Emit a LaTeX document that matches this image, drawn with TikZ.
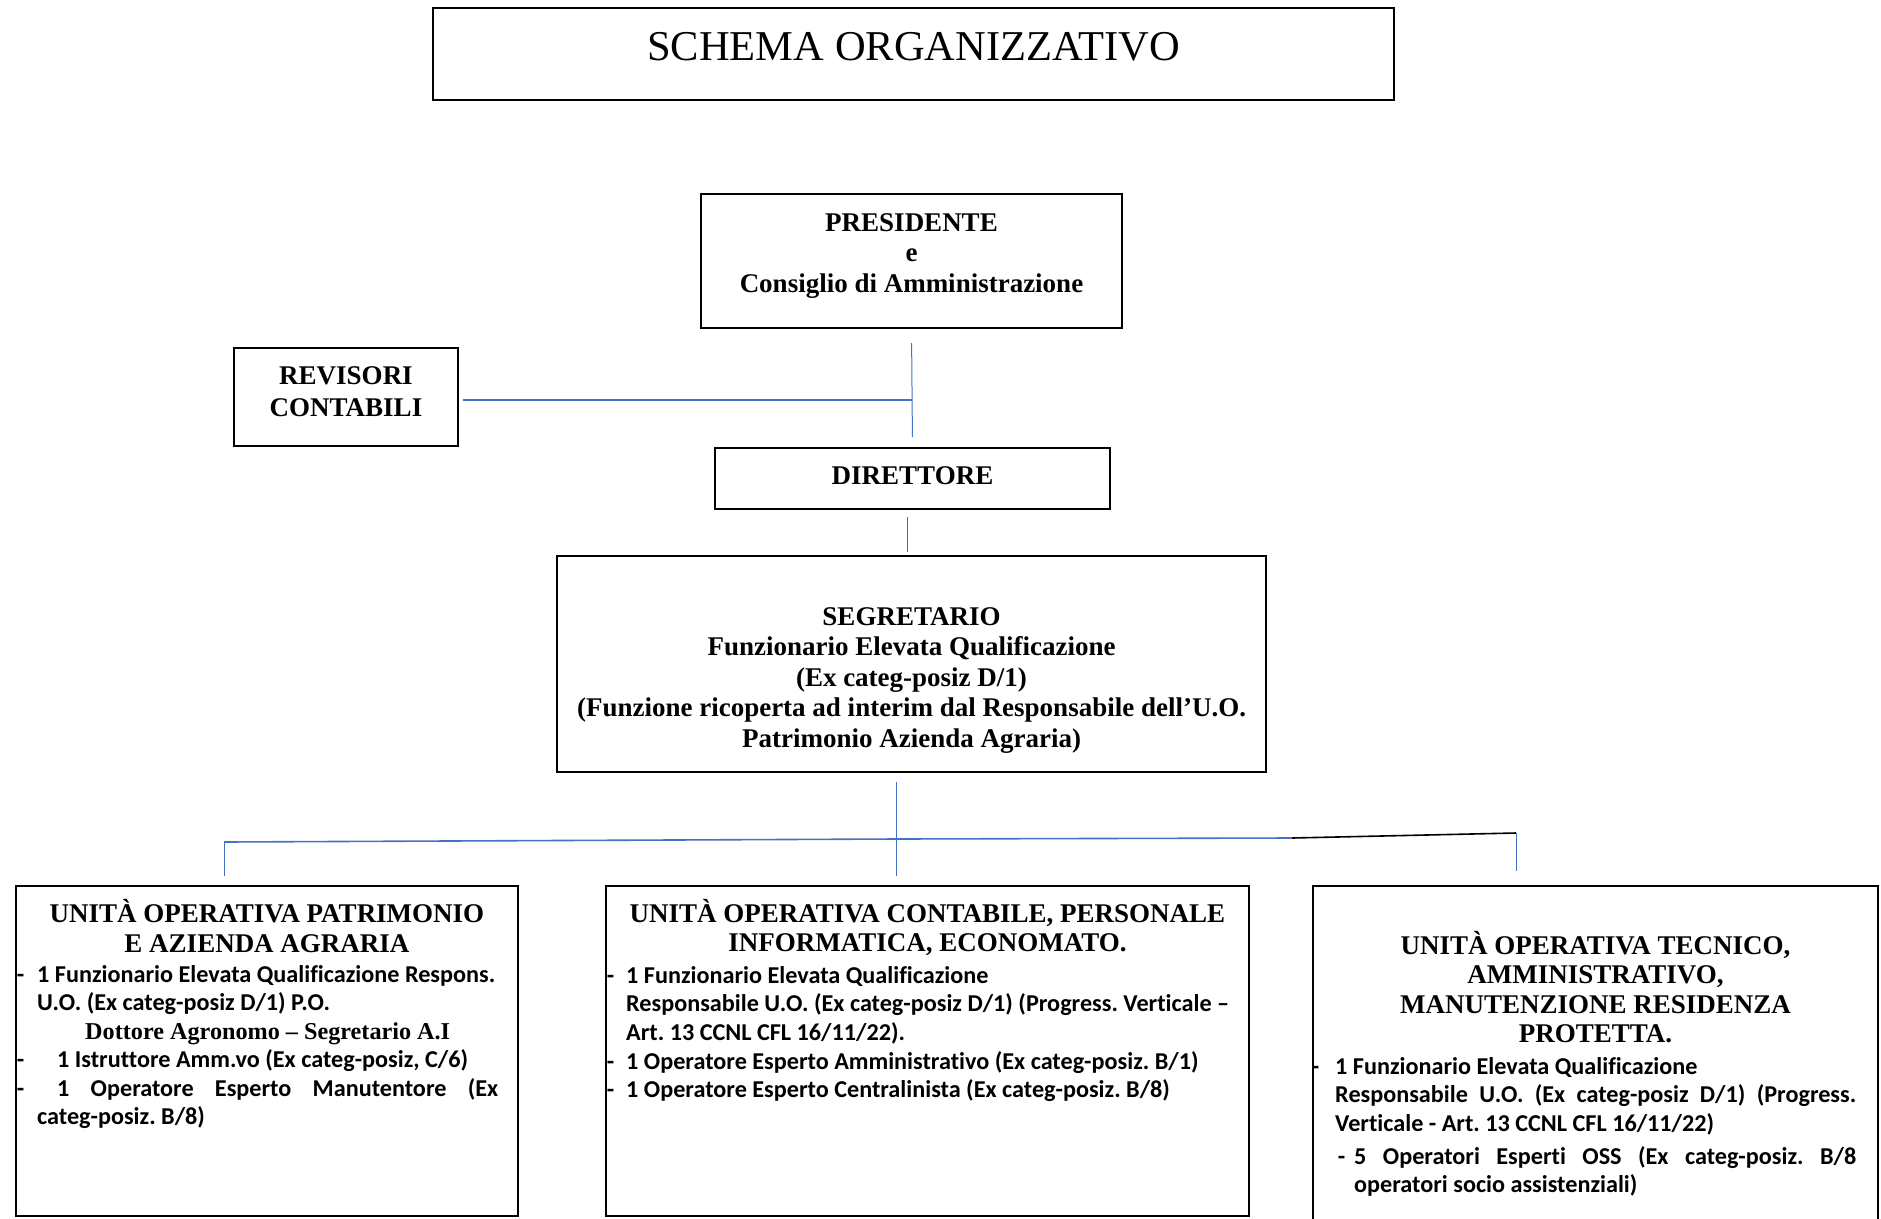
\documentclass[tikz,border=0pt]{standalone}
\usepackage{fontspec}
\setmainfont{Liberation Serif}
\newfontfamily\calibrifont[Ligatures=NoCommon]{Carlito}
\frenchspacing

\definecolor{linkblue}{RGB}{68,114,196}

\newcommand{\bodyfont}{\calibrifont\bfseries\fontsize{24.2}{28.5}\selectfont}
\newcommand{\headfont}{\bfseries\fontsize{27}{30.5}\selectfont}

\tikzset{
  org box/.style={draw=black, line width=2pt, inner sep=0pt},
  head text/.style={inner sep=0pt, anchor=base, font=\headfont},
  body text/.style={inner sep=0pt, anchor=base west, font=\bodyfont},
  link/.style={draw=linkblue, line width=1pt}
}

\begin{document}
\begin{tikzpicture}[x=1pt, y=-1pt]
\useasboundingbox (0,0) rectangle (1881,1218);
\clip (0,0) rectangle (1881,1218);

\node[org box, minimum width=961pt, minimum height=92pt] (title) at (913.5,54) {};
\node[org box, minimum width=421pt, minimum height=134pt] (pres) at (911.5,261) {};
\node[org box, minimum width=224pt, minimum height=98pt] (rev) at (346,397) {};
\node[org box, minimum width=395pt, minimum height=61pt] (dir) at (912.5,478.5) {};
\node[org box, minimum width=709pt, minimum height=216pt] (seg) at (911.5,664) {};
\node[org box, minimum width=502pt, minimum height=330pt] (uo1) at (267,1051) {};
\node[org box, minimum width=643pt, minimum height=330pt] (uo2) at (927.5,1051) {};
\node[org box, minimum width=565pt, minimum height=344pt] (uo3) at (1595.5,1058) {};

\node[inner sep=0pt, anchor=base, font=\fontsize{42.5}{48}\selectfont] (titletxt) at (913.5,60) {SCHEMA ORGANIZZATIVO};
\node[head text] (prestxt) at (911.5,231) {\parbox[t]{400pt}{\centering PRESIDENTE\\e\\Consiglio di Amministrazione}};
\node[head text] (revtxt) at (346,384) {\parbox[t]{210pt}{\centering\baselineskip=32pt REVISORI\\CONTABILI}};
\node[head text] (dirtxt) at (912.5,484) {DIRETTORE};
\node[head text] (segtxt) at (911.5,625) {\parbox[t]{700pt}{\centering SEGRETARIO\\Funzionario Elevata Qualificazione\\(Ex categ-posiz D/1)\\(Funzione ricoperta ad interim dal Responsabile dell’U.O.\\Patrimonio Azienda Agraria)}};

\node[head text] (uo1head) at (267,922) {\parbox[t]{490pt}{\centering\baselineskip=30pt UNITÀ OPERATIVA PATRIMONIO\\E AZIENDA AGRARIA}};
\node[head text] (uo2head) at (927.5,922) {\parbox[t]{630pt}{\centering\baselineskip=29.5pt UNITÀ OPERATIVA CONTABILE, PERSONALE\\INFORMATICA, ECONOMATO.}};
\node[head text] (uo3head) at (1595.5,954) {\parbox[t]{550pt}{\centering\baselineskip=29.5pt UNITÀ OPERATIVA TECNICO,\\AMMINISTRATIVO,\\MANUTENZIONE RESIDENZA\\PROTETTA.}};

\node[body text] (uo1body) at (37,982) {\parbox[t]{520pt}{\noindent\llap{-\hspace{13pt}}1 Funzionario Elevata Qualificazione Respons.\\
U.O. (Ex categ-posiz D/1) P.O.\\
\makebox[461pt]{\rmfamily Dottore Agronomo \textendash{} Segretario A.I}\\
\llap{-\hspace{13pt}}\hspace*{20pt}1 Istruttore Amm.vo (Ex categ-posiz, C/6)\\
\llap{-\hspace{13pt}}\hspace*{20pt}\makebox[441pt][s]{1 Operatore Esperto Manutentore (Ex}\\
categ-posiz. B/8)}};

\node[body text] (uo2body) at (626,983) {\parbox[t]{660pt}{\baselineskip=28.7pt\noindent\llap{-\hspace{12pt}}1 Funzionario Elevata Qualificazione\\
Responsabile U.O. (Ex categ-posiz D/1) (Progress. Verticale \textendash\\
Art. 13 CCNL CFL 16/11/22).\\
\llap{-\hspace{12pt}}1 Operatore Esperto Amministrativo (Ex categ-posiz. B/1)\\
\llap{-\hspace{12pt}}1 Operatore Esperto Centralinista (Ex categ-posiz. B/8)}};

\node[body text] (uo3body) at (1335,1074) {\parbox[t]{560pt}{\noindent\llap{-\hspace{16pt}}1 Funzionario Elevata Qualificazione\\
\makebox[521pt][s]{Responsabile U.O. (Ex categ-posiz D/1) (Progress.}\\
Verticale - Art. 13 CCNL CFL 16/11/22)\\[4.5pt]
\hspace*{19pt}\llap{-\hspace{9pt}}\makebox[502pt][s]{5 Operatori Esperti OSS (Ex categ-posiz. B/8}\\
\hspace*{19pt}operatori socio assistenziali)}};

\coordinate (jrev) at (912,400);
\coordinate (bus) at (896,839);
\coordinate (busL) at (224,842);
\coordinate (busK) at (1292,838);
\coordinate (busR) at (1516,833);

\draw[link, shorten <=14pt, shorten >=10pt] (pres.south) -- (dir.north);
\draw[link, line width=2pt, shorten <=4pt] (rev.east |- jrev) -- (jrev);
\draw[link, shorten <=7pt, shorten >=3pt] ([xshift=-5pt]dir.south) -- ([xshift=-4pt]seg.north);
\draw[link, shorten <=9pt, shorten >=9pt] (seg.south -| bus) -- (bus |- uo2.north);
\draw[link, line width=1.6pt] (busL) -- (bus) -- (busK);
\draw[line width=1.6pt] (busK) -- (busR);
\draw[link, shorten >=9pt] (busL) -- (busL |- uo1.north);
\draw[link, shorten >=14pt] (busR) -- (busR |- uo3.north);
\end{tikzpicture}
\end{document}
